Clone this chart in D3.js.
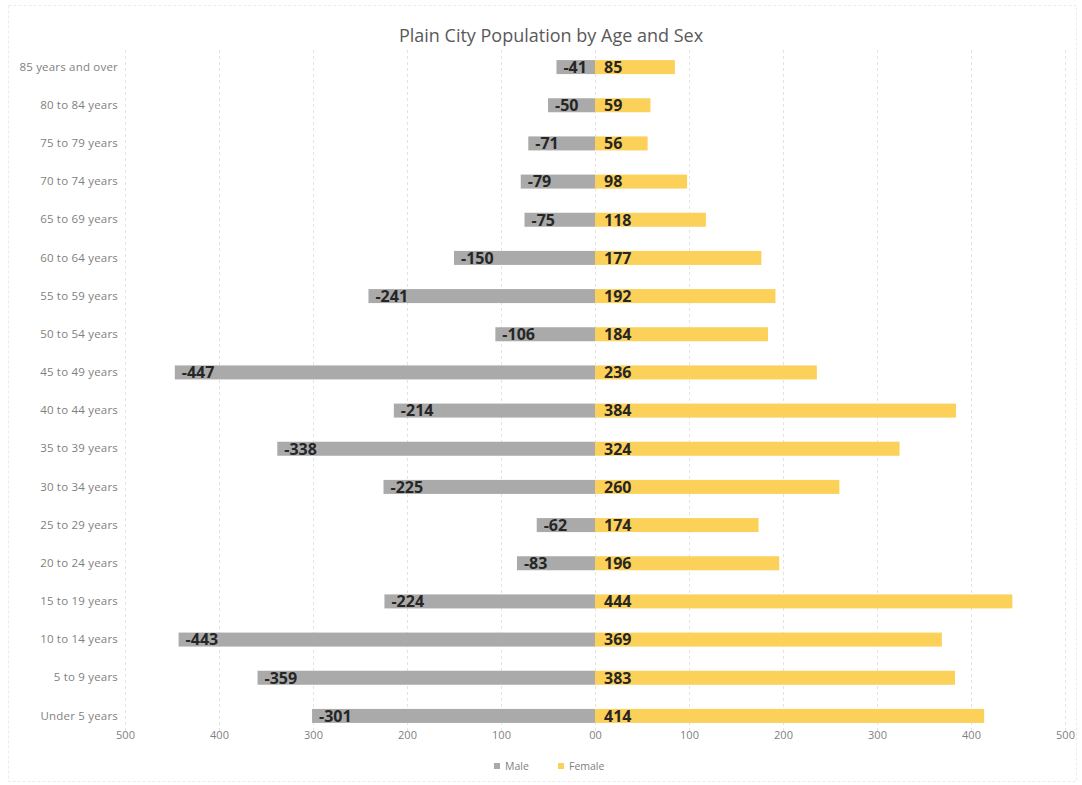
<!DOCTYPE html>
<html><head><meta charset="utf-8">
<script src="https://cdn.jsdelivr.net/npm/d3@7"></script>
<style>body{margin:0;background:#fff}svg{display:block}</style>
</head><body><svg id="c" width="1082" height="785"></svg>
<script>
const categories = ["85 years and over","80 to 84 years","75 to 79 years","70 to 74 years","65 to 69 years","60 to 64 years","55 to 59 years","50 to 54 years","45 to 49 years","40 to 44 years","35 to 39 years","30 to 34 years","25 to 29 years","20 to 24 years","15 to 19 years","10 to 14 years","5 to 9 years","Under 5 years"];
const male = [-41,-50,-71,-79,-75,-150,-241,-106,-447,-214,-338,-225,-62,-83,-224,-443,-359,-301];
const female = [85,59,56,98,118,177,192,184,236,384,324,260,174,196,444,369,383,414];
const xTicks = [-500,-400,-300,-200,-100,0,100,200,300,400,500];
const xTickLabels = ["500","400","300","200","100","00","100","200","300","400","500"];
const seriesNames = ["Male","Female"];
const colors = {Male:"#aaaaaa", Female:"#fcd15a"};

const svg = d3.select("#c");
const font = "'Open Sans', Lato, sans-serif";
svg.append("rect").attr("x",8.5).attr("y",5.5).attr("width",1068).attr("height",776)
  .attr("fill","none").attr("stroke","#ececec").attr("stroke-dasharray","3,2");

const x = d3.scaleLinear().domain([-500,500]).range([125,1065]);
const y = d3.scaleBand().domain(categories).range([48,735]).paddingInner(0.633).paddingOuter(0.3165);

// gridlines
svg.append("g").selectAll("line").data(xTicks).join("line")
  .attr("x1",d=>x(d)+0.5).attr("x2",d=>x(d)+0.5).attr("y1",50).attr("y2",732)
  .attr("stroke","#e3e3e3").attr("stroke-width",1).attr("stroke-dasharray","3,3");

// x axis
const xAxis = d3.axisBottom(x).tickValues(xTicks).tickFormat((d,i)=>xTickLabels[i]).tickSize(0).tickPadding(0);
const gx = svg.append("g").attr("transform","translate(0,731)").call(xAxis);
gx.select(".domain").remove();
gx.selectAll("text").attr("fill","#7f7f7f").attr("font-size",11).attr("font-family",font).attr("dy","0.71em");

// y axis
const yAxis = d3.axisLeft(y).tickSize(0).tickPadding(0);
const gy = svg.append("g").attr("transform","translate(118,0)").call(yAxis);
gy.select(".domain").remove();
gy.selectAll("text").attr("fill","#7f7f7f").attr("font-size",11.5).attr("font-family",font).attr("letter-spacing","0.2");

// bars
const rows = categories.map((c,i)=>({c, m:male[i], f:female[i]}));
svg.append("g").selectAll("rect").data(rows).join("rect")
  .attr("x",d=>x(d.m)).attr("width",d=>x(0)-x(d.m)).attr("y",d=>y(d.c)).attr("height",y.bandwidth())
  .attr("fill",colors.Male);
svg.append("g").selectAll("rect").data(rows).join("rect")
  .attr("x",x(0)).attr("width",d=>x(d.f)-x(0)).attr("y",d=>y(d.c)).attr("height",y.bandwidth())
  .attr("fill",colors.Female);

// labels
const lab = svg.append("g").attr("font-family",font).attr("font-weight","bold").attr("font-size",16).attr("fill","#262626");
lab.selectAll("text.m").data(rows).join("text").attr("class","m")
  .attr("x",d=>x(d.m)+7).attr("y",d=>y(d.c)+y.bandwidth()/2).attr("dy","0.36em").text(d=>d.m);
lab.selectAll("text.f").data(rows).join("text").attr("class","f")
  .attr("x",x(0)+9).attr("y",d=>y(d.c)+y.bandwidth()/2).attr("dy","0.36em").text(d=>d.f);

// title
svg.append("text").attr("x",551).attr("y",42).attr("text-anchor","middle")
  .attr("font-family",font).attr("font-size",18).attr("fill","#595959").text("Plain City Population by Age and Sex");

// legend
const leg = svg.append("g").attr("font-family",font).attr("font-size",10.5).attr("fill","#7f7f7f");
const legX = [494, 558];
seriesNames.forEach((s,i)=>{
  leg.append("rect").attr("x",legX[i]).attr("y",763).attr("width",6).attr("height",6).attr("fill",colors[s]);
  leg.append("text").attr("x",legX[i]+11).attr("y",766).attr("dy","0.36em").text(s);
});
</script></body></html>
